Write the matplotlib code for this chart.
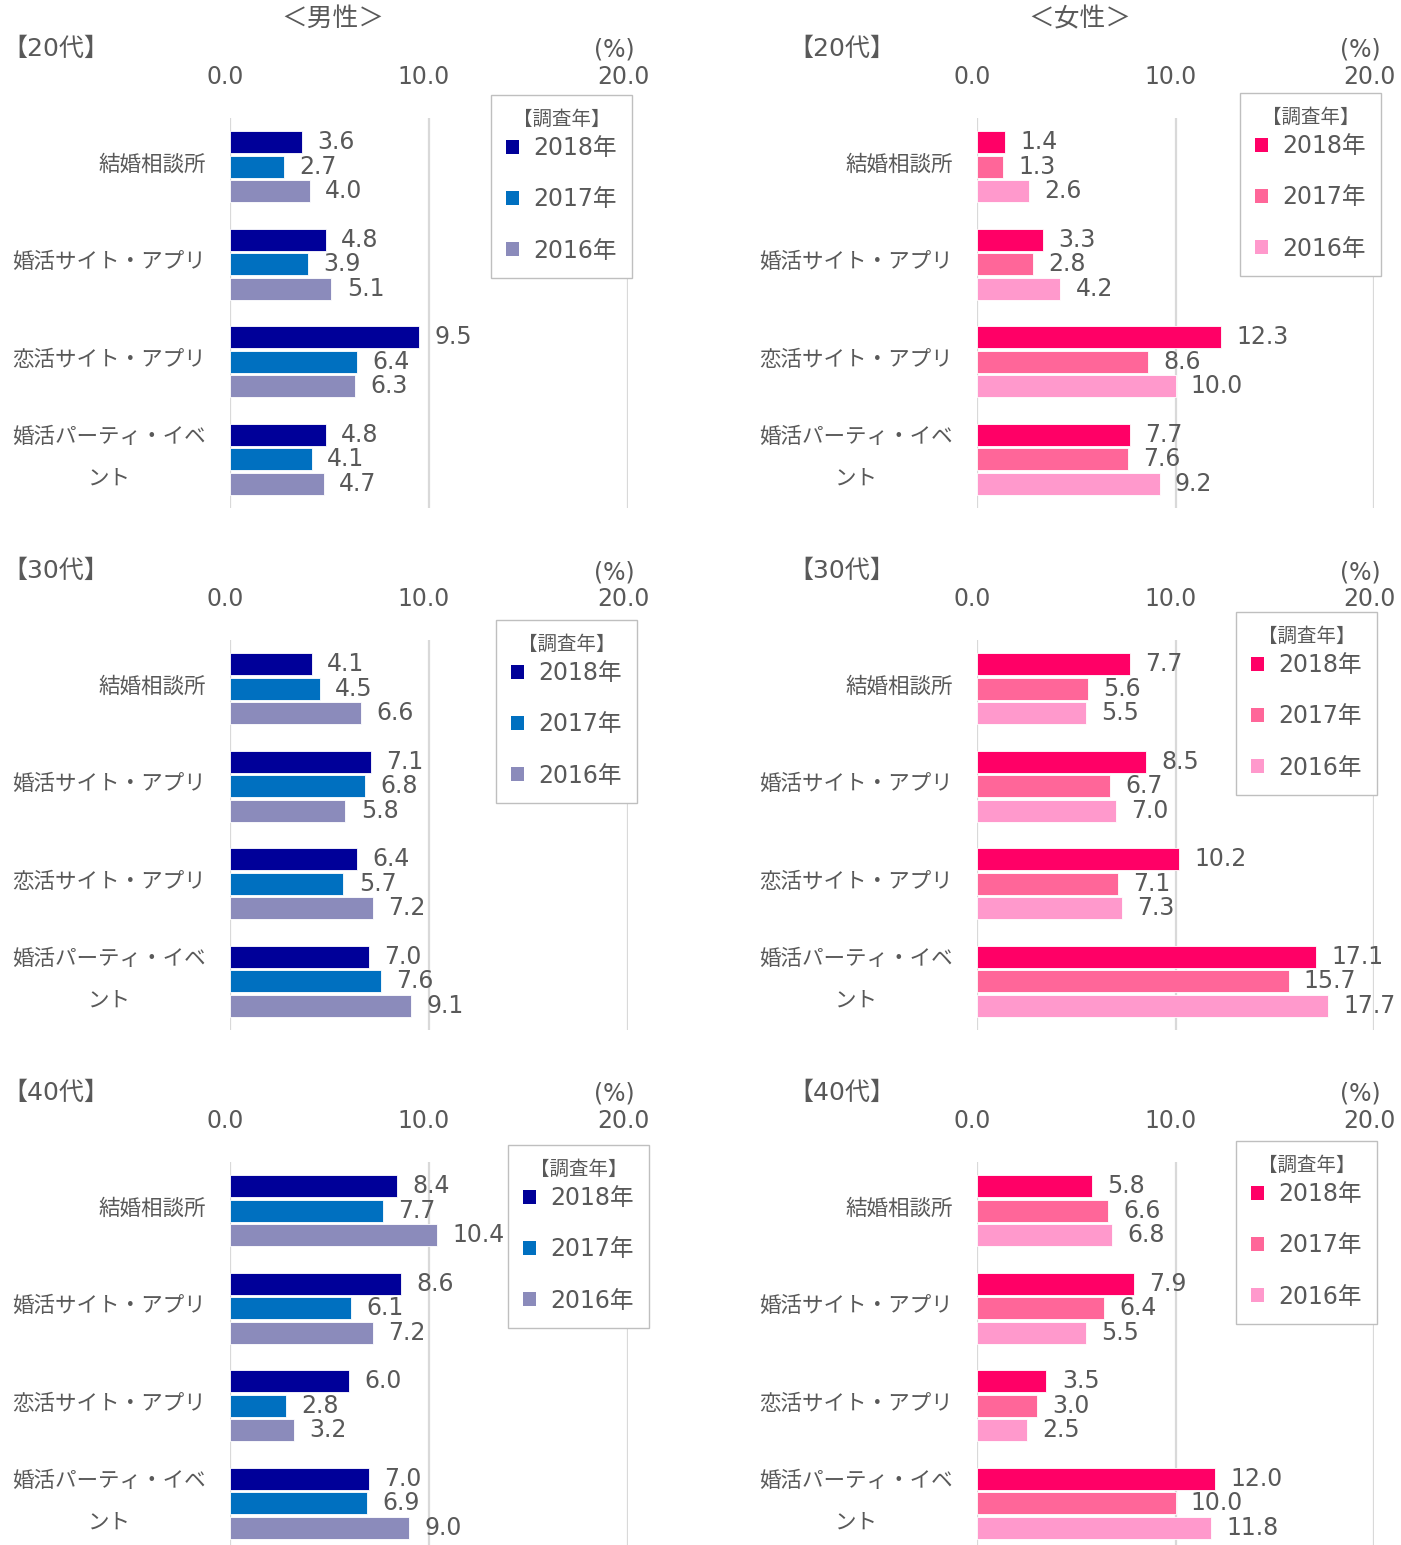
import matplotlib
matplotlib.use('Agg')
import matplotlib.pyplot as plt
import matplotlib.transforms as mtransforms
from matplotlib.patches import Patch
import numpy as np

plt.rcParams['font.family'] = ['DejaVu Sans', 'Noto Sans CJK JP']

# data
categories = ['結婚相談所', '婚活サイト・アプリ', '恋活サイト・アプリ', '婚活パーティ・イベ\nント']
years = ['2018年', '2017年', '2016年']
age_groups = ['【20代】', '【30代】', '【40代】']

# values per category: [2018, 2017, 2016]
male_20 = [[3.6, 2.7, 4.0], [4.8, 3.9, 5.1], [9.5, 6.4, 6.3], [4.8, 4.1, 4.7]]
male_30 = [[4.1, 4.5, 6.6], [7.1, 6.8, 5.8], [6.4, 5.7, 7.2], [7.0, 7.6, 9.1]]
male_40 = [[8.4, 7.7, 10.4], [8.6, 6.1, 7.2], [6.0, 2.8, 3.2], [7.0, 6.9, 9.0]]
female_20 = [[1.4, 1.3, 2.6], [3.3, 2.8, 4.2], [12.3, 8.6, 10.0], [7.7, 7.6, 9.2]]
female_30 = [[7.7, 5.6, 5.5], [8.5, 6.7, 7.0], [10.2, 7.1, 7.3], [17.1, 15.7, 17.7]]
female_40 = [[5.8, 6.6, 6.8], [7.9, 6.4, 5.5], [3.5, 3.0, 2.5], [12.0, 10.0, 11.8]]

male_colors = ['#000099', '#0070C0', '#8B8BBB']
female_colors = ['#FF0066', '#FF6699', '#FF99CC']

W, H = 1401, 1545
TXT = '#595959'
GRID = '#D9D9D9'

fig = plt.figure(figsize=(W / 100, H / 100), dpi=100)


def fx(px):
    return px / W


def fy(py):
    return 1 - py / H


# panel layout in pixels: (left, right) per column, (top) per row
cols = [(230, 628), (977, 1374)]
row_tops = [118, 640, 1162]
panel_h = 390
legend_pos = [[(491, 95), (1240, 93)],
              [(496, 620), (1236, 612)],
              [(508, 1145), (1236, 1141)]]

panels = [[male_20, female_20], [male_30, female_30], [male_40, female_40]]
palettes = [male_colors, female_colors]
tick_shift = mtransforms.ScaledTranslation(-5 / 100, 0, fig.dpi_scale_trans)
cat_shift = mtransforms.ScaledTranslation(-24 / 100, 2 / 100, fig.dpi_scale_trans)

for r in range(3):
    for c in range(2):
        vals = np.array(panels[r][c])
        colors = palettes[c]
        left, right = cols[c]
        top = row_tops[r]
        ax = fig.add_axes([fx(left), fy(top + panel_h), fx(right - left), panel_h / H])
        y = np.arange(len(categories))
        for k in range(3):
            pos = y - 0.251 + k * 0.251
            bars = ax.barh(pos, vals[:, k], height=0.228, color=colors[k],
                           edgecolor='white', linewidth=0.6, zorder=3)
            for b, v in zip(bars, vals[:, k]):
                ax.annotate(f'{v:.1f}', (v, b.get_y() + b.get_height() / 2),
                            xytext=(11, 0), textcoords='offset points',
                            ha='left', va='center', fontsize=17, color=TXT,
                            zorder=5)
        ax.set_xlim(0, 20)
        ax.set_ylim(3.5, -0.5)
        ax.set_xticks([0, 10, 20])
        ax.set_xticklabels(['0.0', '10.0', '20.0'])
        ax.xaxis.tick_top()
        ax.tick_params(axis='x', length=0, pad=21, labelsize=17, labelcolor=TXT)
        for lbl in ax.get_xticklabels():
            lbl.set_transform(lbl.get_transform() + tick_shift)
        ax.set_yticks([])
        # category labels
        for i, cat in enumerate(categories):
            ax.text(0, i, cat, transform=ax.get_yaxis_transform() + cat_shift,
                    ha='right', va='center', fontsize=15.5, color=TXT,
                    multialignment='center', linespacing=2.35)
        ax.grid(axis='x', color=GRID, linewidth=1.6, zorder=0)
        for s in ax.spines.values():
            s.set_visible(False)

        handles = [Patch(facecolor=colors[k], edgecolor='none') for k in range(3)]
        lx, ly = legend_pos[r][c]
        leg = ax.legend(handles, years, title='【調査年】', loc='upper left',
                        bbox_to_anchor=(fx(lx), fy(ly)),
                        bbox_transform=fig.transFigure, borderaxespad=0,
                        fontsize=17, title_fontsize=14, frameon=True,
                        fancybox=False, edgecolor='#BFBFBF', framealpha=1,
                        handlelength=0.55, handleheight=0.55, handletextpad=0.6,
                        labelspacing=1.15, borderpad=0.65)
        leg._legend_box.sep = 5
        leg.get_frame().set_linewidth(1.0)
        for t in leg.get_texts():
            t.set_color(TXT)
        leg.get_title().set_color(TXT)
        leg.set_zorder(10)

        # row title and unit
        fig.text(fx(left - 228 if c == 0 else left - 189), fy(top - 69), age_groups[r],
                 fontsize=18, color=TXT, ha='left', va='center')
        fig.text(fx(right - 14), fy(top - 68), '(%)', fontsize=17,
                 color=TXT, ha='center', va='center')

fig.text(fx(333), fy(19), '＜男性＞', fontsize=18.5, color=TXT, ha='center', va='center')
fig.text(fx(1080), fy(19), '＜女性＞', fontsize=18.5, color=TXT, ha='center', va='center')

fig.savefig('out.png', dpi=100)
